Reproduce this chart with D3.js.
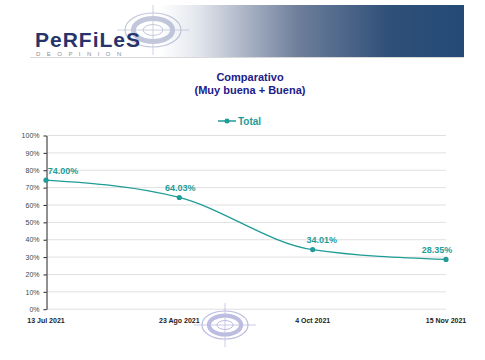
<!DOCTYPE html>
<html><head><meta charset="utf-8">
<script src="https://cdn.jsdelivr.net/npm/d3@7"></script>
<style>body{margin:0;background:#fff}svg{display:block}</style>
</head><body><svg id="c" width="485" height="360"></svg>
<script>
const categories = ["13 Jul 2021", "23 Ago 2021", "4 Oct 2021", "15 Nov 2021"];
const totalValues = [74.00, 64.03, 34.01, 28.35];
const yTicks = [0,10,20,30,40,50,60,70,80,90,100];
const seriesName = "Total";
const title1 = "Comparativo", title2 = "(Muy buena + Buena)";

const svg = d3.select("#c");
const teal = "#1f9c97";
const defs = svg.append("defs");
const g1 = defs.append("linearGradient").attr("id","ban").attr("x1","0").attr("x2","1");
g1.append("stop").attr("offset","0").attr("stop-color","#ffffff");
g1.append("stop").attr("offset","0.12").attr("stop-color","#e4e7ee");
g1.append("stop").attr("offset","0.45").attr("stop-color","#6f7f9c");
g1.append("stop").attr("offset","0.75").attr("stop-color","#2f5078");
g1.append("stop").attr("offset","1").attr("stop-color","#244a76");

// header banner
svg.append("rect").attr("x",160).attr("y",5).attr("width",304).attr("height",52).attr("fill","url(#ban)");
svg.append("line").attr("x1",30).attr("x2",464).attr("y1",57.5).attr("y2",57.5).attr("stroke","#d8d8d8");
function target(cx, cy, rx, ry, col, op){
  const t = svg.append("g").attr("opacity",op);
  t.append("line").attr("x1",cx).attr("x2",cx).attr("y1",cy-ry-8).attr("y2",cy+ry+8).attr("stroke",col).attr("stroke-width",0.8);
  t.append("line").attr("x1",cx-rx-8).attr("x2",cx+rx+8).attr("y1",cy).attr("y2",cy).attr("stroke",col).attr("stroke-width",0.8);
  t.append("ellipse").attr("cx",cx).attr("cy",cy).attr("rx",rx).attr("ry",ry).attr("fill","none").attr("stroke",col).attr("stroke-width",1.2);
  t.append("ellipse").attr("cx",cx).attr("cy",cy).attr("rx",rx*0.7).attr("ry",ry*0.68).attr("fill","none").attr("stroke",col).attr("stroke-width",rx*0.18);
  t.append("ellipse").attr("cx",cx).attr("cy",cy).attr("rx",rx*0.35).attr("ry",ry*0.32).attr("fill","none").attr("stroke",col).attr("stroke-width",1);
}
target(153, 30, 28, 17, "#9aa3c4", 0.6);
svg.append("text").attr("x",35).attr("y",47).text("PeRFiLeS")
  .attr("font-family","Liberation Sans, Arial, sans-serif").attr("font-weight","bold").attr("font-size",21)
  .attr("fill","#27336b").attr("letter-spacing","1");
svg.append("text").attr("x",36).attr("y",56).text("D E O P I N I O N")
  .attr("font-family","Liberation Sans, Arial, sans-serif").attr("font-size",6).attr("fill","#8a8f9a").attr("letter-spacing","2.4");

// title
svg.append("text").attr("x",250).attr("y",81).attr("text-anchor","middle").text(title1)
  .attr("font-family","Liberation Sans, Arial, sans-serif").attr("font-weight","bold").attr("font-size",11).attr("fill","#20208a");
svg.append("text").attr("x",250).attr("y",94).attr("text-anchor","middle").text(title2)
  .attr("font-family","Liberation Sans, Arial, sans-serif").attr("font-weight","bold").attr("font-size",11).attr("fill","#20208a");

// legend
svg.append("line").attr("x1",218).attr("x2",236).attr("y1",121).attr("y2",121).attr("stroke",teal).attr("stroke-width",1.5);
svg.append("circle").attr("cx",227).attr("cy",121).attr("r",2.5).attr("fill",teal);
svg.append("text").attr("x",238).attr("y",125).text(seriesName)
  .attr("font-family","Liberation Sans, Arial, sans-serif").attr("font-weight","bold").attr("font-size",10).attr("fill",teal);

// scales
const x = d3.scalePoint().domain(categories).range([46, 446]);
const y = d3.scaleLinear().domain([0,100]).range([308.7, 135]);

// gridlines
svg.append("g").selectAll("line").data(yTicks).join("line")
  .attr("x1",46).attr("x2",446).attr("y1",d=>y(d)+0.5).attr("y2",d=>y(d)+0.5)
  .attr("stroke","#e0e0e0").attr("stroke-width",1);

// y axis
const ya = svg.append("g").attr("transform","translate(46.5,0.5)")
  .call(d3.axisLeft(y).tickValues(yTicks).tickFormat(d=>d+"%").tickSize(3).tickSizeOuter(0));
ya.select(".domain").attr("stroke","#222");
ya.selectAll(".tick line").attr("stroke","#222");
ya.selectAll("text").attr("font-family","Liberation Sans, Arial, sans-serif").attr("font-size",7).attr("fill","#444").attr("dx","-1");

// x labels
svg.append("g").selectAll("text").data(categories).join("text")
  .attr("x",d=>x(d)).attr("y",323).attr("text-anchor","middle").text(d=>d)
  .attr("font-family","Liberation Sans, Arial, sans-serif").attr("font-weight","bold").attr("font-size",7).attr("fill","#222");

// watermark
target(225, 325, 23, 14, "#a8a6d8", 0.75);

// line
const pts = categories.map((c,i)=>({c, v: totalValues[i]}));
svg.append("path").datum(pts)
  .attr("d", d3.line().x(d=>x(d.c)).y(d=>y(d.v)).curve(d3.curveMonotoneX))
  .attr("fill","none").attr("stroke",teal).attr("stroke-width",1.3);
svg.append("g").selectAll("circle").data(pts).join("circle")
  .attr("cx",d=>x(d.c)).attr("cy",d=>y(d.v)).attr("r",2.6).attr("fill",teal);
const dx = [17, 1, 9, -9];
svg.append("g").selectAll("text").data(pts).join("text")
  .attr("x",(d,i)=> x(d.c)+dx[i])
  .attr("y",d=>y(d.v)-6.5)
  .attr("text-anchor","middle")
  .text(d=>d.v.toFixed(2)+"%")
  .attr("font-family","Liberation Sans, Arial, sans-serif").attr("font-weight","bold").attr("font-size",9).attr("fill",teal);
</script></body></html>
